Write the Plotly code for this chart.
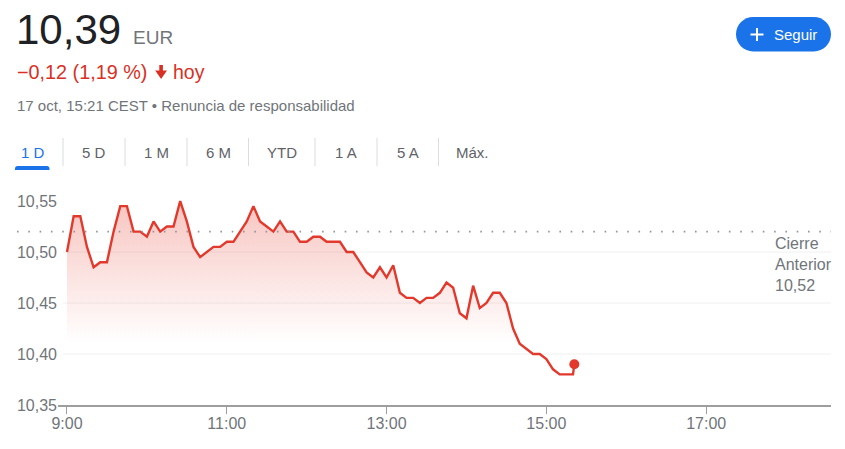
import plotly.graph_objects as go
import pandas as pd

# ---------------- data ----------------
times = list(pd.date_range("2023-10-17 09:00", "2023-10-17 15:20", freq="5min").strftime("%Y-%m-%d %H:%M")) + ["2023-10-17 15:21"]
prices = [
    10.500, 10.535, 10.535, 10.505, 10.485, 10.490, 10.490, 10.520, 10.545, 10.545,
    10.520, 10.520, 10.515, 10.530, 10.520, 10.525, 10.525, 10.550, 10.530, 10.505,
    10.495, 10.500, 10.505, 10.505, 10.510, 10.510, 10.520, 10.530, 10.545, 10.530,
    10.525, 10.520, 10.530, 10.520, 10.520, 10.510, 10.510, 10.515, 10.515, 10.510,
    10.510, 10.510, 10.500, 10.500, 10.490, 10.480, 10.475, 10.485, 10.475, 10.487,
    10.460, 10.455, 10.455, 10.450, 10.455, 10.455, 10.460, 10.470, 10.465, 10.440,
    10.435, 10.467, 10.445, 10.450, 10.460, 10.460, 10.450, 10.425, 10.410, 10.405,
    10.400, 10.400, 10.395, 10.385, 10.380, 10.380, 10.380, 10.390,
]
prev_close = 10.52
y_ticks = [10.35, 10.40, 10.45, 10.50, 10.55]
grid_vals = [10.40, 10.45, 10.50]
x_tick_vals = ["2023-10-17 09:00", "2023-10-17 11:00", "2023-10-17 13:00", "2023-10-17 15:00", "2023-10-17 17:00"]
x_tick_text = ["9:00", "11:00", "13:00", "15:00", "17:00"]
x_range = ["2023-10-17 08:53:15", "2023-10-17 18:33:45"]
y_range = [10.35, 10.5657]
tabs = ["1 D", "5 D", "1 M", "6 M", "YTD", "1 A", "5 A", "Máx."]

# ---------------- layout helpers ----------------
W, H = 845, 449
L, R, T, B = 58, 831, 185, 405
def X(px):
    return (px - L) / (R - L)
def Y(py):
    return (B - py) / (B - T)

FONT = "Arial, Liberation Sans, sans-serif"
RED = "#e2392c"
GRAY = "#70757a"
BLUE = "#1a73e8"

fig = go.Figure()
fig.add_trace(go.Scatter(
    x=times, y=prices, mode="lines",
    line=dict(color=RED, width=2.4),
    fill="tozeroy",
    fillgradient=dict(type="vertical",
                      colorscale=[[0, "rgba(230,70,55,0)"], [1, "rgba(230,70,55,0.34)"]],
                      start=10.41, stop=10.56),
    hoverinfo="skip", showlegend=False,
))
fig.add_trace(go.Scatter(
    x=[times[-1]], y=[prices[-1]], mode="markers",
    marker=dict(color=RED, size=10), hoverinfo="skip", showlegend=False,
))

shapes = []
# faint gridlines
for g in grid_vals:
    shapes.append(dict(type="line", xref="paper", yref="y", x0=X(63), x1=1, y0=g, y1=g,
                       line=dict(color="#f0f0f0", width=1), layer="below"))
# previous close dotted line
shapes.append(dict(type="line", xref="paper", yref="y", x0=X(17), x1=1, y0=prev_close, y1=prev_close,
                   line=dict(color="#8f959b", width=1.6, dash="1.6px,9.7px"), layer="above"))

def rr_path(x0, y0, x1, y1, r, top_only=False):
    k = 0.5523 * r
    pts = []
    pts.append(f"M{X(x0 + r)},{Y(y0)}")
    pts.append(f"L{X(x1 - r)},{Y(y0)}")
    pts.append(f"C{X(x1 - r + k)},{Y(y0)} {X(x1)},{Y(y0 + r - k)} {X(x1)},{Y(y0 + r)}")
    if top_only:
        pts.append(f"L{X(x1)},{Y(y1)}")
        pts.append(f"L{X(x0)},{Y(y1)}")
    else:
        pts.append(f"L{X(x1)},{Y(y1 - r)}")
        pts.append(f"C{X(x1)},{Y(y1 - r + k)} {X(x1 - r + k)},{Y(y1)} {X(x1 - r)},{Y(y1)}")
        pts.append(f"L{X(x0 + r)},{Y(y1)}")
        pts.append(f"C{X(x0 + r - k)},{Y(y1)} {X(x0)},{Y(y1 - r + k)} {X(x0)},{Y(y1 - r)}")
    pts.append(f"L{X(x0)},{Y(y0 + r)}")
    pts.append(f"C{X(x0)},{Y(y0 + r - k)} {X(x0 + r - k)},{Y(y0)} {X(x0 + r)},{Y(y0)}")
    pts.append("Z")
    return " ".join(pts)

# Seguir button
shapes.append(dict(type="path", xref="paper", yref="paper", path=rr_path(736, 17, 831, 51.5, 17.2),
                   fillcolor=BLUE, line=dict(width=0), layer="above"))
shapes.append(dict(type="line", xref="paper", yref="paper", x0=X(750.5), x1=X(763.5), y0=Y(34.5), y1=Y(34.5),
                   line=dict(color="white", width=2)))
shapes.append(dict(type="line", xref="paper", yref="paper", x0=X(757), x1=X(757), y0=Y(28), y1=Y(41),
                   line=dict(color="white", width=2)))
# down arrow
arrow = (f"M{X(159.3)},{Y(65)} L{X(162.9)},{Y(65)} L{X(162.9)},{Y(70.5)} L{X(167)},{Y(70.5)} "
         f"L{X(161.1)},{Y(79)} L{X(155.2)},{Y(70.5)} L{X(159.3)},{Y(70.5)} Z")
shapes.append(dict(type="path", xref="paper", yref="paper", path=arrow,
                   fillcolor="#d93025", line=dict(width=0)))
# tab separators
for sx in [63, 125, 187, 248.5, 315, 377, 438.5]:
    shapes.append(dict(type="line", xref="paper", yref="paper", x0=X(sx), x1=X(sx), y0=Y(138), y1=Y(166),
                       line=dict(color="#dadce0", width=1)))
# active tab underline
shapes.append(dict(type="path", xref="paper", yref="paper", path=rr_path(15, 166, 49.5, 170, 2.5, top_only=True),
                   fillcolor=BLUE, line=dict(width=0)))

ann = []
def text(x, y, s, size, color, anchor="left"):
    ann.append(dict(xref="paper", yref="paper", x=X(x), y=Y(y), text=s, showarrow=False,
                    xanchor=anchor, yanchor="middle", font=dict(family=FONT, size=size, color=color)))

text(14, 29, "10,39", 42, "#202124")
text(131, 37, "EUR", 19, GRAY)
text(15, 72, "−0,12 (1,19 %)", 19.8, "#d93025")
text(171, 72, "hoy", 19.5, "#d93025")
text(15, 105, "17 oct, 15:21 CEST • Renuncia de responsabilidad", 15, GRAY)
text(772, 34.5, "Seguir", 15, "white")
tab_centers = [33, 94.3, 156, 218, 281.7, 346, 408, 472.5]
for i, (t, c) in enumerate(zip(tabs, tab_centers)):
    text(c, 152.5, t, 15, BLUE if i == 0 else "#5f6368", anchor="center")
# previous close label
ann.append(dict(xref="paper", yref="y", x=X(773), y=prev_close, yshift=-33,
                text="Cierre<br>Anterior<br>" + f"{prev_close:.2f}".replace(".", ","),
                showarrow=False, xanchor="left", yanchor="middle", align="left",
                font=dict(family=FONT, size=16, color=GRAY)))

fig.update_layout(
    width=W, height=H,
    margin=dict(l=L, r=W - R, t=T, b=H - B),
    paper_bgcolor="white", plot_bgcolor="white",
    separators=", ",
    shapes=shapes, annotations=ann,
    xaxis=dict(type="date", range=x_range, tickvals=x_tick_vals, ticktext=x_tick_text,
               showgrid=False, zeroline=False, showline=True, linecolor="#9e9e9e", linewidth=2,
               ticks="outside", ticklen=7, tickwidth=1, tickcolor="#9e9e9e", ticklabelstandoff=-4,
               tickfont=dict(family=FONT, size=16, color=GRAY), fixedrange=True),
    yaxis=dict(range=y_range, tickvals=y_ticks, tickformat=".2f", showgrid=False, zeroline=False,
               showline=False, ticks="", tickfont=dict(family=FONT, size=16, color=GRAY), fixedrange=True),
    showlegend=False,
)

fig.write_html("out.html", config={"displayModeBar": False},
               post_script="document.body.style.margin='0';document.body.style.overflow='hidden';")
